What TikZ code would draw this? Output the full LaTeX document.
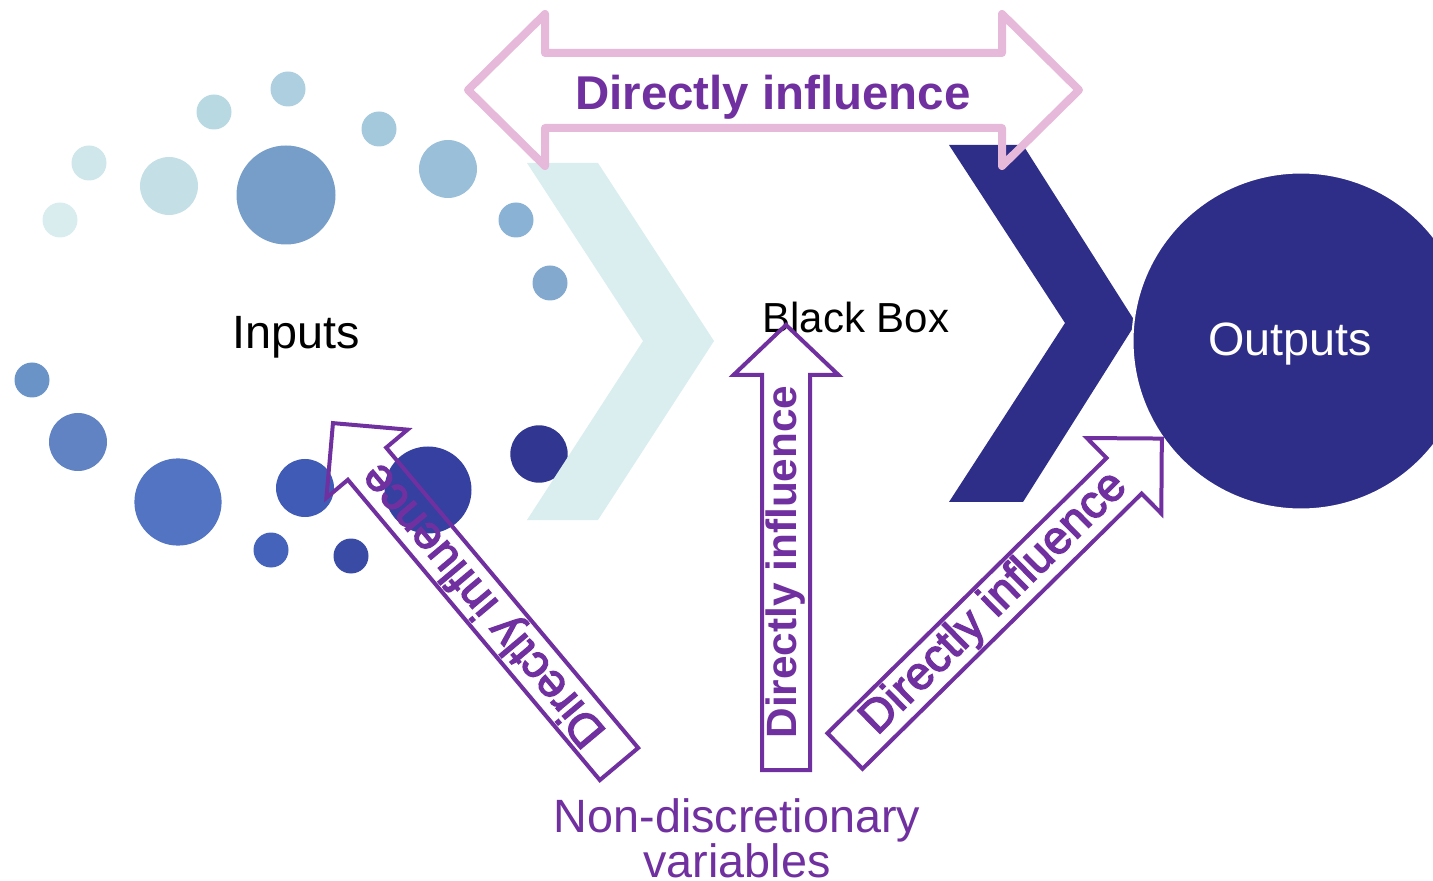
\documentclass[tikz,border=0pt]{standalone}
\usepackage{fontspec}
\setmainfont{Liberation Sans}
\newfontfamily\heavysans[FakeBold=3]{Liberation Sans}
\definecolor{navy}{HTML}{2E2D88}
\definecolor{chevlight}{HTML}{DAEDEF}
\definecolor{pinkline}{HTML}{E6B8D9}
\definecolor{violet}{HTML}{7030A0}
\definecolor{d1}{HTML}{AECFDF}
\definecolor{d2}{HTML}{B9D9E2}
\definecolor{d3}{HTML}{CFE6EA}
\definecolor{d4}{HTML}{D9EDEF}
\definecolor{d5}{HTML}{C4E0E6}
\definecolor{d6}{HTML}{779DC9}
\definecolor{d7}{HTML}{A4C8DC}
\definecolor{d8}{HTML}{9ABFD8}
\definecolor{d9}{HTML}{8AB2D4}
\definecolor{d10}{HTML}{84A9CF}
\definecolor{d11}{HTML}{6A94C8}
\definecolor{d12}{HTML}{6183C3}
\definecolor{d13}{HTML}{5374C2}
\definecolor{d14}{HTML}{3F5BB5}
\definecolor{d15}{HTML}{4563BB}
\definecolor{d16}{HTML}{3A4BA6}
\definecolor{d17}{HTML}{3640A0}
\definecolor{d18}{HTML}{313790}
\begin{document}
\begin{tikzpicture}[x=0.02cm,y=-0.02cm,
  label/.style={inner sep=0pt, font=\fontsize{26.6}{30}\selectfont},
  pinkarrow/.style={draw=pinkline, line width=0.16cm, line join=round},
  blockarrow/.style={draw=violet, line width=0.08cm, line join=miter},
  arrowtext/.style={inner sep=0pt, text=violet, transform shape,
    font=\heavysans\fontsize{26.4}{30}\selectfont},
]
\useasboundingbox (0,0) rectangle (1433,881);

% scattered input dots
\foreach \x/\y/\r/\c in {288/89/17.5/d1, 214/112/17.5/d2, 89/163/17.5/d3,
    60/220/17.5/d4, 169/186/29/d5, 286/195/49.5/d6, 379/129/17.5/d7,
    448/169/29/d8, 516/220/17.5/d9, 550/283/17.5/d10, 32/380/17.5/d11,
    78/442/29/d12, 178/502/43.6/d13, 305/488/29/d14, 271/550/17.5/d15,
    351/556/17.5/d16, 428/490/43.5/d17, 539/454/28.7/d18}
  \fill[\c] (\x,\y) circle[radius=\r];

% chevrons
\fill[chevlight] (527,163) -- (598,163) -- (714,341) -- (598,520)
  -- (527,520) -- (643,341) -- cycle;
\fill[navy] (949,145) -- (1023,145) -- (1136,323) -- (1023,502)
  -- (949,502) -- (1065,323) -- cycle;

% output circle
\node[circle, fill=navy, draw=white, line width=0.04cm, minimum size=6.74cm,
  inner sep=0pt] (outc) at (1301,341) {};

% labels
\node[label, anchor=base] (inputs) at (296,349) {Inputs};
\node[label, anchor=base, font=\fontsize{23.9}{28}\selectfont] (bbox) at (856,333) {Black Box};
\node[label, anchor=base, text=white] (outputs) at (1290,356) {Outputs};
\node[label, anchor=base, text=violet] (nd1) at (737,832) {Non-discretionary};
\node[label, anchor=base, text=violet] (nd2) at (737,877) {variables};

% double-headed arrow on top
\draw[pinkarrow] (468,90) -- (545,14) -- (545,53) -- (1002,53) -- (1002,14)
  -- (1079,90) -- (1002,166) -- (1002,128) -- (545,128) -- (545,166) -- cycle;
\node[inner sep=0pt, anchor=base, text=violet,
  font=\fontsize{27}{30}\selectfont\bfseries] (top) at (773,110) {Directly influence};

% block arrows from the non-discretionary variables
\begin{scope}[shift={(619,764)}, rotate=130]
  \draw[blockarrow] (0,-25) -- (392,-25) -- (392,-53) -- (445,0)
    -- (392,53) -- (392,25) -- (0,25) -- cycle;
  \node[arrowtext] (a1) at (209,0) {Directly influence};
\end{scope}
\begin{scope}[shift={(786,770)}, rotate=90]
  \draw[blockarrow] (0,-24) -- (395,-24) -- (395,-52.5) -- (445,0)
    -- (395,52.5) -- (395,24) -- (0,24) -- cycle;
  \node[arrowtext, font=\fontsize{24.1}{28}\selectfont\bfseries] (a2) at (208,0) {Directly influence};
\end{scope}
\begin{scope}[shift={(845,751)}, rotate=44.6]
  \draw[blockarrow] (0,-25) -- (392,-25) -- (392,-53) -- (445,0)
    -- (392,53) -- (392,25) -- (0,25) -- cycle;
  \node[arrowtext] (a3) at (210,0) {Directly influence};
\end{scope}
\end{tikzpicture}
\end{document}
